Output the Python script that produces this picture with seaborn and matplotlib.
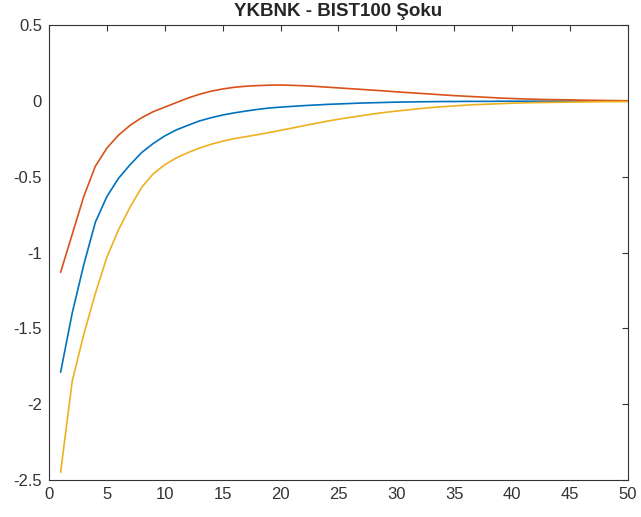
import numpy as np
import pandas as pd
import matplotlib
matplotlib.use("Agg")
import matplotlib.pyplot as plt
import seaborn as sns

# impulse response values (periods 1..50)
periods = list(range(1, 51))

upper = [-1.13, -0.88, -0.63, -0.43, -0.31, -0.225, -0.16, -0.11, -0.07, -0.04,
         -0.01, 0.02, 0.045, 0.065, 0.08, 0.091, 0.098, 0.102, 0.105, 0.106,
         0.104, 0.101, 0.097, 0.092, 0.087, 0.082, 0.077, 0.072, 0.067, 0.061,
         0.056, 0.051, 0.046, 0.041, 0.036, 0.032, 0.028, 0.024, 0.020, 0.017,
         0.014, 0.012, 0.010, 0.009, 0.008, 0.006, 0.005, 0.004, 0.003, 0.002]

response = [-1.79, -1.40, -1.08, -0.80, -0.63, -0.51, -0.42, -0.34, -0.28, -0.23,
            -0.19, -0.16, -0.131, -0.11, -0.092, -0.078, -0.066, -0.055, -0.046, -0.040,
            -0.035, -0.030, -0.026, -0.022, -0.019, -0.016, -0.013, -0.011, -0.009, -0.007,
            -0.006, -0.005, -0.004, -0.003, -0.003, -0.002, -0.002, -0.002, -0.001, -0.001,
            -0.001, -0.001, -0.001, -0.001, 0.0, 0.0, 0.0, 0.0, 0.0, 0.0]

lower = [-2.45, -1.85, -1.54, -1.27, -1.03, -0.85, -0.70, -0.57, -0.48, -0.42,
         -0.375, -0.34, -0.31, -0.285, -0.265, -0.248, -0.235, -0.222, -0.208, -0.193,
         -0.178, -0.163, -0.148, -0.133, -0.12, -0.108, -0.096, -0.085, -0.075, -0.066,
         -0.058, -0.050, -0.043, -0.037, -0.032, -0.027, -0.023, -0.020, -0.017, -0.014,
         -0.012, -0.010, -0.009, -0.008, -0.007, -0.006, -0.005, -0.004, -0.004, -0.003]

title = "YKBNK - BIST100 Şoku"

# long-form frame for seaborn
df = pd.concat([
    pd.DataFrame({"period": periods, "value": response, "series": "response"}),
    pd.DataFrame({"period": periods, "value": upper, "series": "upper"}),
    pd.DataFrame({"period": periods, "value": lower, "series": "lower"}),
])

sns.set_style("white")
plt.rcParams['font.family'] = ['Liberation Sans', 'DejaVu Sans']

fig = plt.figure(figsize=(6.41, 5.17), dpi=100)
ax = fig.add_axes([0.0765, 0.072, 0.903, 0.879])

palette = {"response": "#0072BD", "upper": "#D95319", "lower": "#EDB120"}
sns.lineplot(data=df, x="period", y="value", hue="series", palette=palette,
             linewidth=1.2, legend=False, ax=ax)

ax.set_xlim(0, 50)
ax.set_ylim(-2.5, 0.5)
ax.set_xticks(np.arange(0, 51, 5))
ax.set_yticks(np.arange(-2.5, 0.51, 0.5))
ax.set_yticklabels(["-2.5", "-2", "-1.5", "-1", "-0.5", "0", "0.5"])
ax.set_xlabel("")
ax.set_ylabel("")
ax.tick_params(direction="in", length=4, width=0.8, top=True, right=True,
               labelsize=12, colors="#333333", pad=5)
for s in ax.spines.values():
    s.set_color("#333333")
    s.set_linewidth(0.8)
ax.set_title(title, fontsize=13.5, fontweight="bold", pad=7)

fig.savefig("out.png", dpi=100)
